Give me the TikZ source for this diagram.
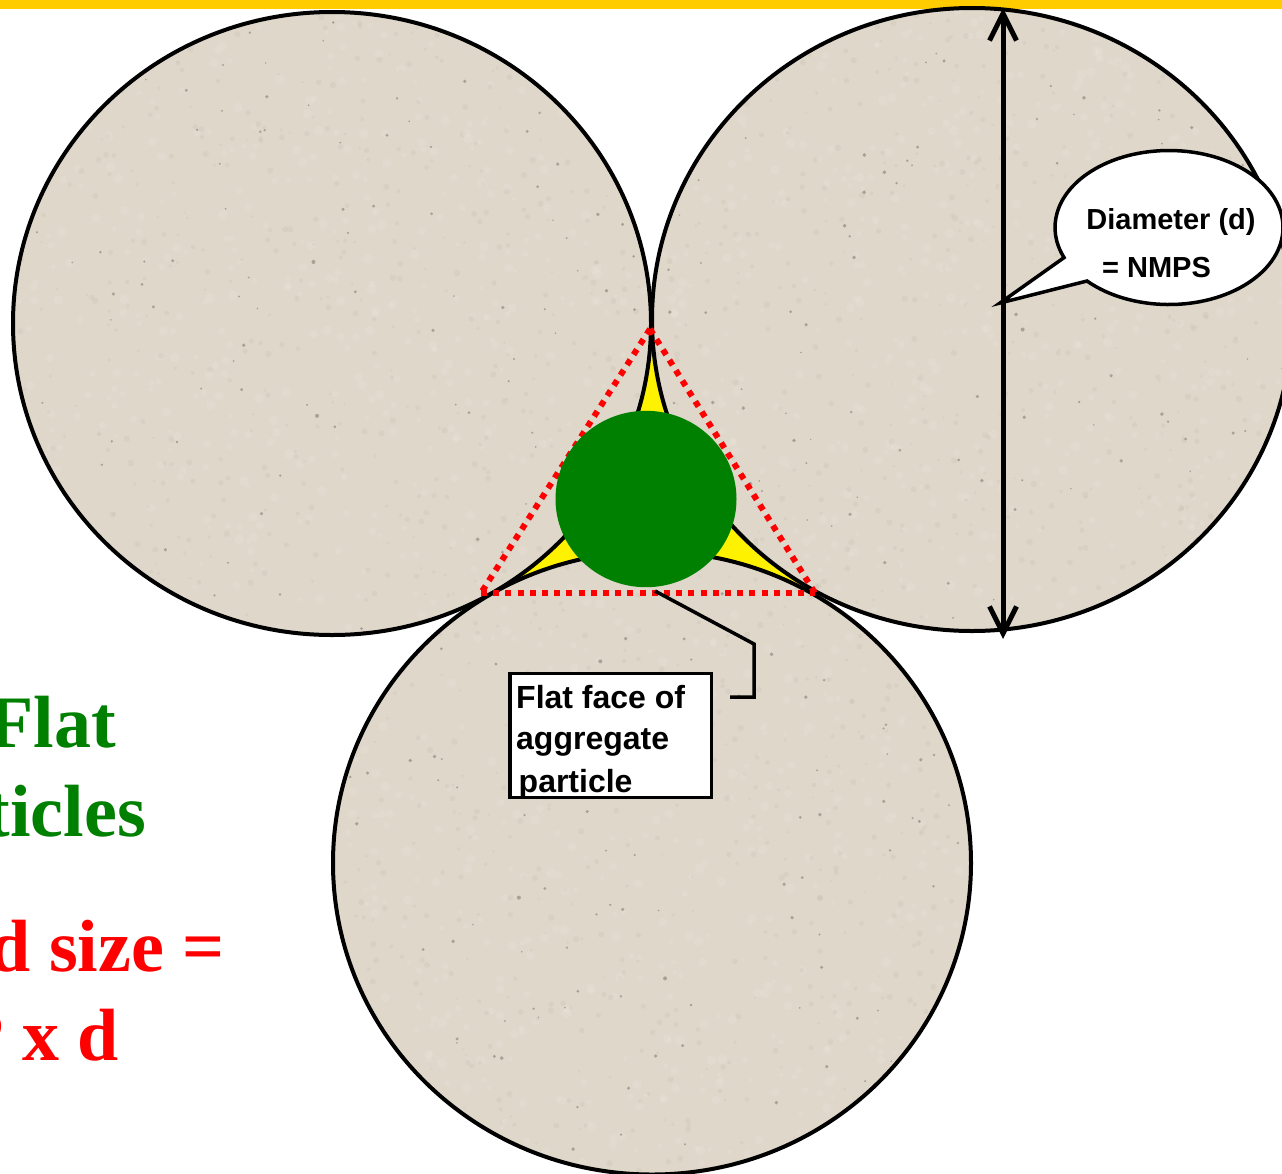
\documentclass[tikz,border=0pt]{standalone}
\usepackage{fontspec}
\setmainfont{Liberation Serif}
\setsansfont{Liberation Sans}
\usetikzlibrary{arrows.meta}
\definecolor{stone}{HTML}{DFD7CA}
\definecolor{speck}{HTML}{7D766B}
\definecolor{mottle}{HTML}{EAE4DA}
\definecolor{mottledark}{HTML}{BDB5A7}
\definecolor{barcol}{HTML}{FFCC00}
\definecolor{leaf}{HTML}{008000}
\tikzset{
  particle/.style={draw=black,line width=4pt,fill=none},
  stonefill/.style={fill=stone},
  bigtext/.style={font=\rmfamily\bfseries\fontsize{74}{74}\selectfont,anchor=base east,inner sep=0pt},
  lab/.style={font=\sffamily\bfseries\fontsize{32}{32}\selectfont,text=black,inner sep=0pt},
  labsmall/.style={font=\sffamily\bfseries\fontsize{29}{29}\selectfont,text=black,inner sep=0pt},
  redline/.style={draw=red,line width=6pt,dash pattern=on 6pt off 6.2pt},
  leader/.style={draw=black,line width=3.5pt,line join=miter},
  dimline/.style={draw=black,line width=5pt,{Straight Barb[length=27pt,width=27pt,line width=5pt]}-{Straight Barb[length=27pt,width=27pt,line width=5pt]}},
}
\newcommand{\stonetex}[2]{%
  \pgfmathsetseed{#2}%
  \foreach \i in {1,...,500}{%
    \pgfmathsetmacro{\tx}{#1-320+640*rnd}%
    \pgfmathsetmacro{\ty}{\cy-312+624*rnd}%
    \pgfmathsetmacro{\tr}{2+3*rnd}%
    \fill[mottle,opacity=.3] (\tx,\ty) circle (\tr);
    \pgfmathsetmacro{\tx}{#1-320+640*rnd}%
    \pgfmathsetmacro{\ty}{\cy-312+624*rnd}%
    \pgfmathsetmacro{\tr}{1.2+2*rnd}%
    \fill[mottledark,opacity=.2] (\tx,\ty) circle (\tr);
  }%
  \foreach \i in {1,...,110}{%
    \pgfmathsetmacro{\tx}{#1-320+640*rnd}%
    \pgfmathsetmacro{\ty}{\cy-312+624*rnd}%
    \pgfmathsetmacro{\tr}{.8+1.2*rnd}%
    \fill[speck,opacity=.55] (\tx,\ty) circle (\tr);
  }%
}
\begin{document}
\begin{tikzpicture}[x=1pt,y=-1pt]
\useasboundingbox (0,0) rectangle (1282,1173);
\begin{scope}
\clip (0,0) rectangle (1282,1173);
\fill[white] (0,0) rectangle (1282,1173);
\fill[barcol] (0,0) rectangle (1282,8.5);

% yellow gap
\fill[yellow] (650,329) -- (483,593) -- (815,593) -- cycle;

% particles
\def\cy{323.5}
\fill[stonefill] (332,323.5) ellipse (319 and 311.5);
\begin{scope}\clip (332,323.5) ellipse (319 and 311.5); \stonetex{332}{11} \end{scope}
\draw[particle] (332,323.5) ellipse (319 and 311.5);
\def\cy{319.5}
\fill[stonefill] (972,319.5) ellipse (320 and 311.5);
\begin{scope}\clip (972,319.5) ellipse (320 and 311.5); \stonetex{972}{22} \end{scope}
\draw[particle] (972,319.5) ellipse (320 and 311.5);
\def\cy{863}
\fill[stonefill] (652,863) ellipse (319 and 311.5);
\begin{scope}\clip (652,863) ellipse (319 and 311.5); \stonetex{652}{33} \end{scope}
\draw[particle] (652,863) ellipse (319 and 311.5);

% red triangle
\coordinate (ta) at (650,329);
\coordinate (tb) at (481,593);
\coordinate (tc) at (815,593);
\draw[redline] (ta) -- (tb);
\draw[redline] (ta) -- (tc);
\draw[redline] (tb) -- (tc);

% flat particle
\fill[leaf] (646,499) ellipse (90.5 and 88.2);

% dimension
\coordinate (dtop) at (1003,8);
\coordinate (dbot) at (1003,639);
\draw[dimline] (dtop) -- (dbot);

% callout
\coordinate (tip) at (1000,303);
\draw[draw=black,fill=white,line width=3.5pt,line join=miter] (tip) -- (1087,281)
  arc[start angle=136,end angle=-203,x radius=114,y radius=77] -- cycle;
\node[labsmall,anchor=base] (dia) at (1171,229) {Diameter (d)};
\node[labsmall,anchor=base] (nmps) at (1156.5,277) {= NMPS};

% flat face label
\node[draw=black,fill=white,line width=3.5pt,outer sep=0pt,minimum width=201.5pt,minimum height=124pt,inner sep=0pt,anchor=north west] (box) at (510,673.5) {};
\node[lab,anchor=base west] (l1) at (516,708) {Flat face of};
\node[lab,anchor=base west] (l2) at (516,749) {aggregate};
\node[lab,anchor=base west] (l3) at (518.5,792) {particle};
\coordinate (lstart) at (655,591);
\coordinate (lend) at (730,697);
\draw[leader] (lstart) -- (754,644) -- (754,697) -- (lend);

% cropped text
\node[bigtext,text=leaf] (t1) at (116,747) {Flat};
\node[bigtext,text=leaf] (t2) at (146,836) {ticles};
\node[bigtext,text=red] (t3) at (225,971) {d size =};
\node[bigtext,text=red] (t4) at (119,1060) {P x d};
\end{scope}
\end{tikzpicture}
\end{document}
